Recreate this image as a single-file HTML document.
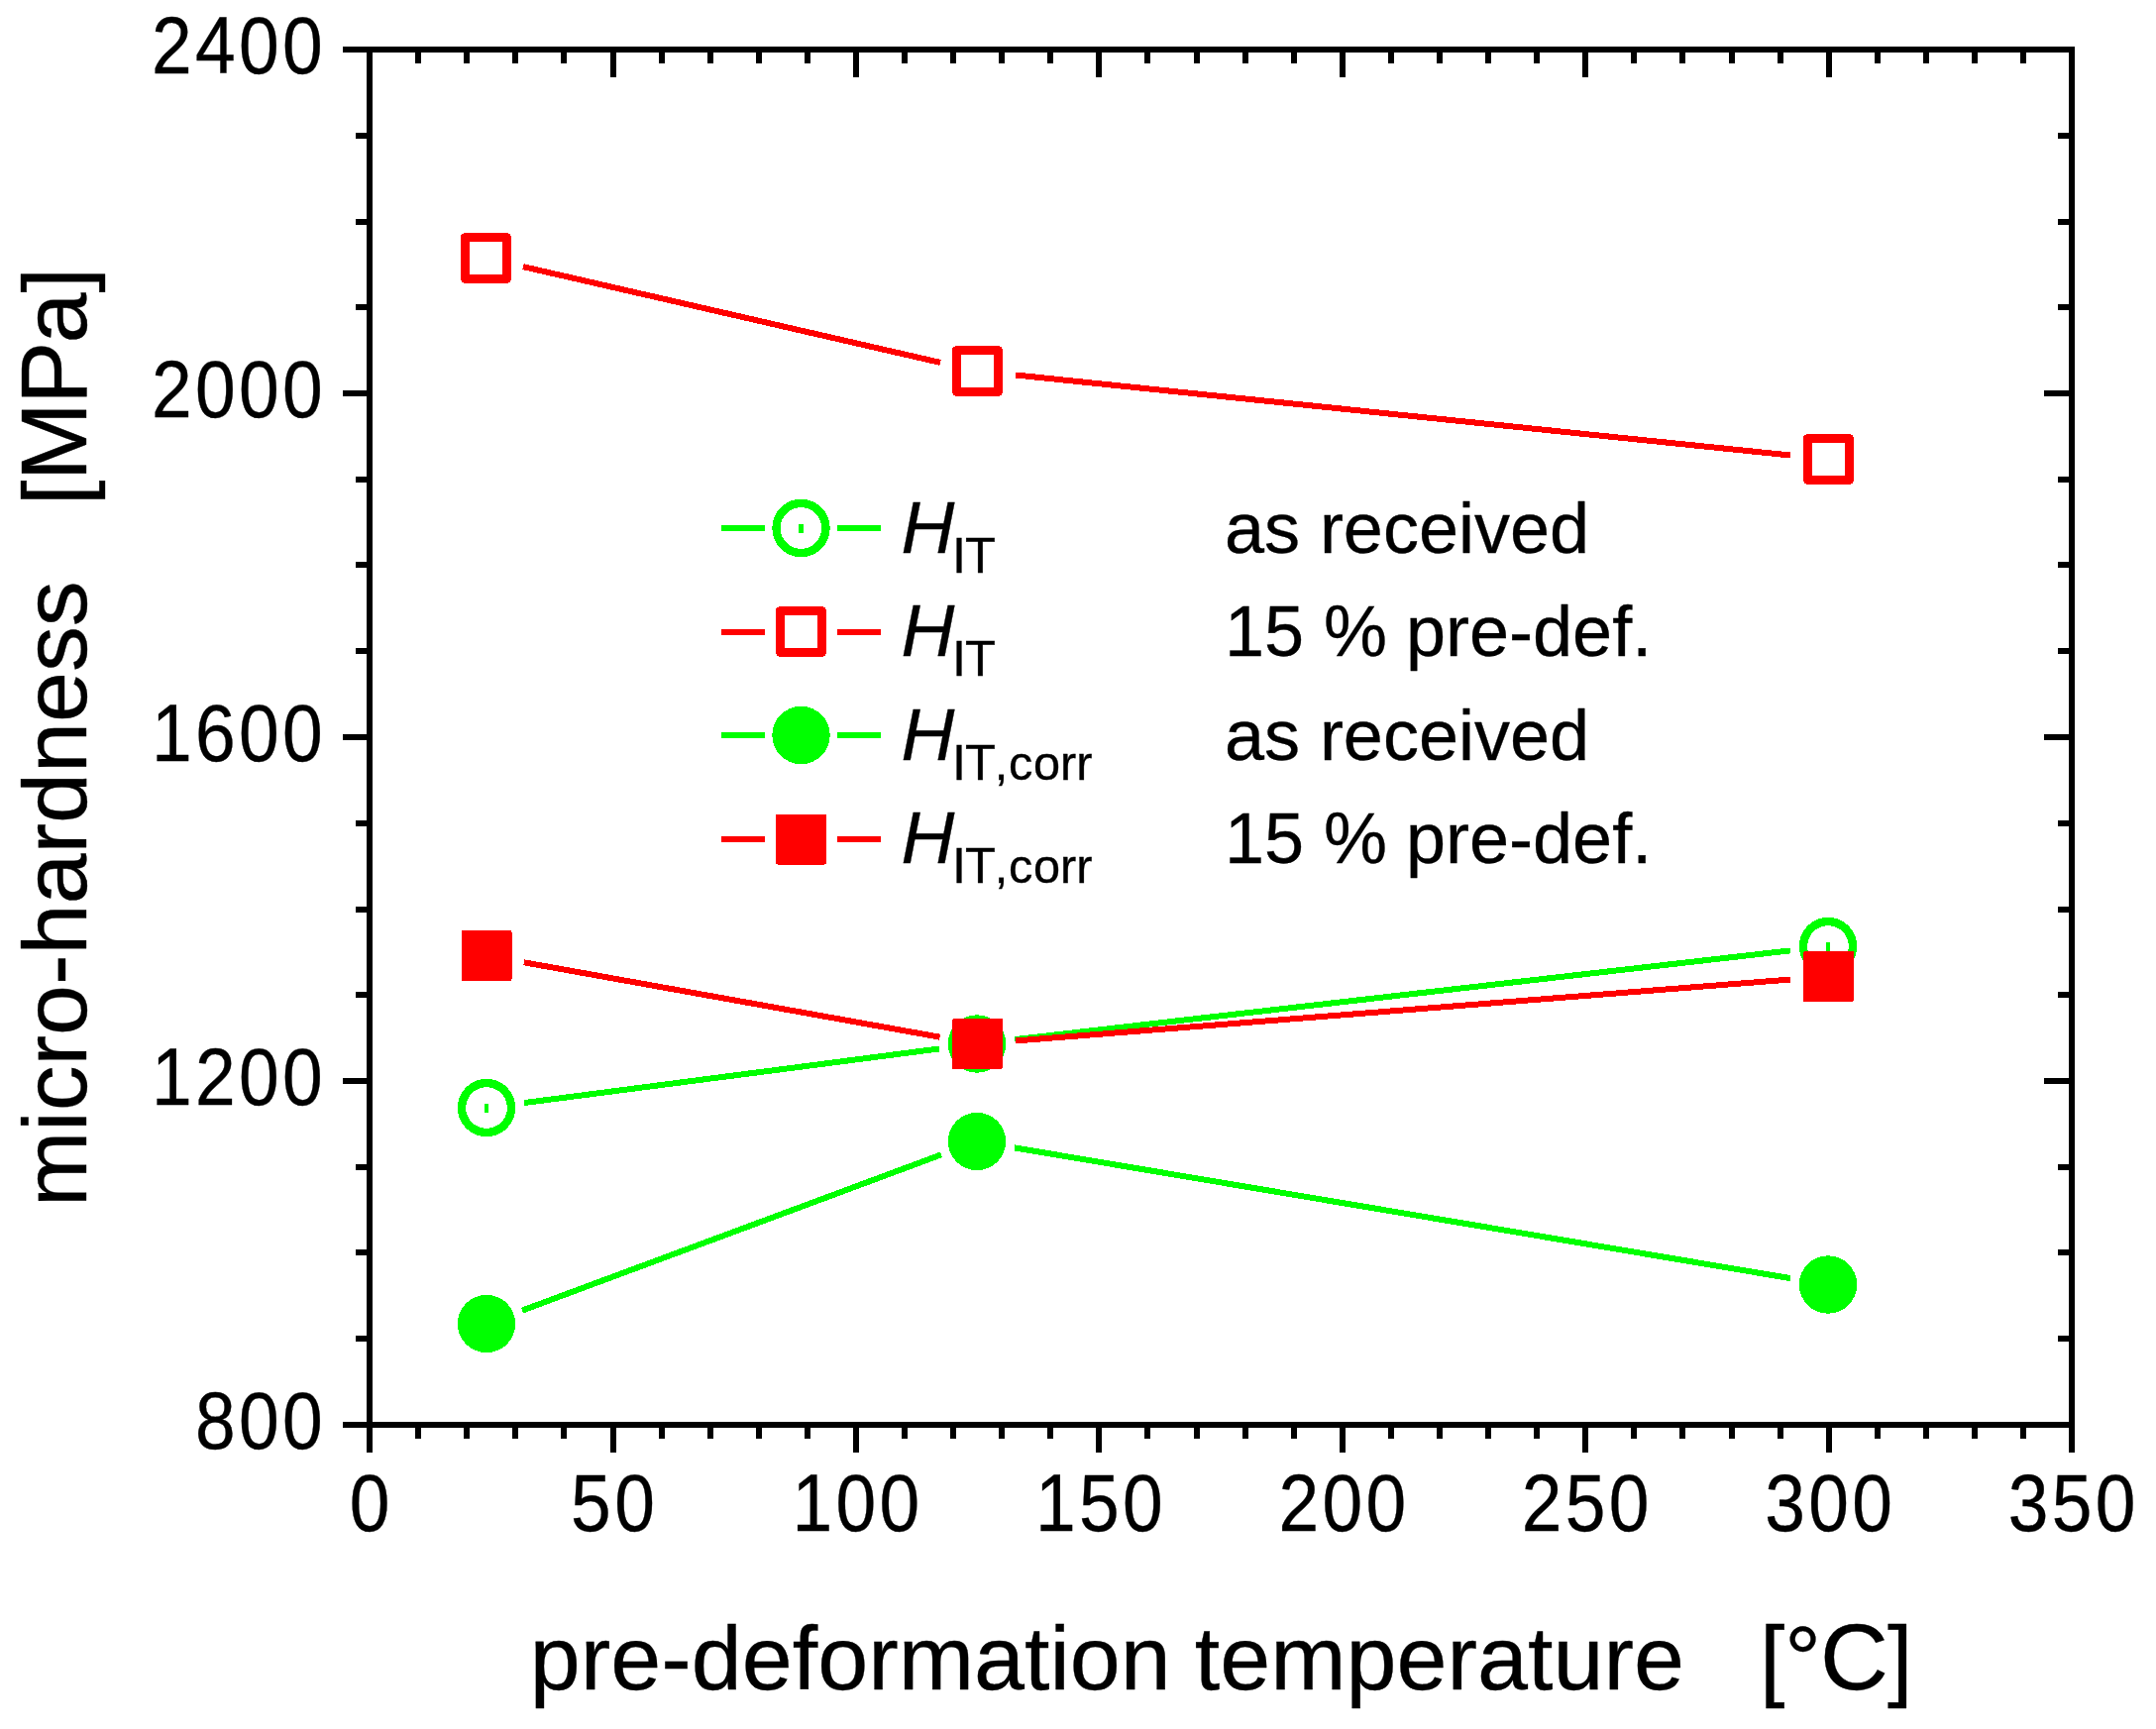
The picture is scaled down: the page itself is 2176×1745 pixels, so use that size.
<!DOCTYPE html>
<html lang="en"><head><meta charset="utf-8"><title>micro-hardness vs pre-deformation temperature</title>
<style>
html,body{margin:0;padding:0;background:#fff;}
body{width:2176px;height:1745px;overflow:hidden;}
svg{display:block;}
text{font-family:"Liberation Sans",Arial,Helvetica,sans-serif;fill:#000;font-kerning:none;stroke:#000;stroke-width:0.35px;}
.tk{font-size:80.8px;letter-spacing:3.7px;stroke-width:0.7px;}
.ti{font-size:91.67px;}
.lg{font-size:72px;}
.sb{font-size:48.7px;}
.it{font-style:italic;font-size:74.6px;}
.sc{font-size:50.6px;}
.cp{font-size:95.43px;}
</style></head><body>
<svg width="2176" height="1745" viewBox="0 0 2176 1745">
<rect x="0" y="0" width="2176" height="1745" fill="#fff"/>
<g id="series" stroke-linecap="butt" shape-rendering="crispEdges">
<g id="go">
<line x1="529.18" y1="1113.03" x2="947.82" y2="1058.47" stroke="#00ff00" stroke-width="6"/>
<line x1="1024.25" y1="1049.11" x2="1806.75" y2="959.39" stroke="#00ff00" stroke-width="6"/>
<circle cx="491" cy="1118" r="25" fill="none" stroke="#00ff00" stroke-width="8.4"/>
<rect x="488.8" y="1113.5" width="4.4" height="9" fill="#00ff00"/>
<circle cx="986" cy="1053.5" r="25" fill="none" stroke="#00ff00" stroke-width="8.4"/>
<rect x="983.8" y="1049" width="4.4" height="9" fill="#00ff00"/>
<circle cx="1845" cy="955" r="25" fill="none" stroke="#00ff00" stroke-width="8.4"/>
<rect x="1842.8" y="950.5" width="4.4" height="9" fill="#00ff00"/>
</g>
<g id="ro">
<line x1="528.02" y1="269.12" x2="948.98" y2="365.88" stroke="#ff0000" stroke-width="6"/>
<line x1="1024.8" y1="378.47" x2="1807.2" y2="459.53" stroke="#ff0000" stroke-width="6"/>
<rect x="469.5" y="239.5" width="42" height="42" fill="none" stroke="#ff0000" stroke-width="9" stroke-linejoin="round"/>
<rect x="965.5" y="353.5" width="42" height="42" fill="none" stroke="#ff0000" stroke-width="9" stroke-linejoin="round"/>
<rect x="1824.5" y="442.5" width="42" height="42" fill="none" stroke="#ff0000" stroke-width="9" stroke-linejoin="round"/>
</g>
<g id="gf">
<line x1="527.09" y1="1322.59" x2="949.91" y2="1165.41" stroke="#00ff00" stroke-width="6"/>
<line x1="1023.97" y1="1158.39" x2="1807.03" y2="1290.11" stroke="#00ff00" stroke-width="6"/>
<circle cx="491" cy="1336" r="29.2" fill="#00ff00"/>
<circle cx="986" cy="1152" r="29.2" fill="#00ff00"/>
<circle cx="1845" cy="1296.5" r="29.2" fill="#00ff00"/>
</g>
<g id="rf">
<line x1="528.89" y1="971.31" x2="948.61" y2="1046.69" stroke="#ff0000" stroke-width="6"/>
<line x1="1024.88" y1="1050.46" x2="1807.12" y2="988.54" stroke="#ff0000" stroke-width="6"/>
<rect x="465.5" y="939" width="51" height="51" rx="2" ry="2" fill="#ff0000"/>
<rect x="961" y="1028" width="51" height="51" rx="2" ry="2" fill="#ff0000"/>
<rect x="1820" y="960" width="51" height="51" rx="2" ry="2" fill="#ff0000"/>
</g>
</g>
<g id="axes" fill="#000" shape-rendering="crispEdges">
<rect x="370" y="47" width="1724" height="6"/>
<rect x="370" y="1435" width="1724" height="6"/>
<rect x="370" y="47" width="6" height="1394"/>
<rect x="2088" y="47" width="6" height="1394"/>
<rect x="370" y="1438" width="6" height="28"/>
<rect x="370" y="50" width="6" height="28"/>
<rect x="419" y="1438" width="6" height="14"/>
<rect x="419" y="50" width="6" height="14"/>
<rect x="468" y="1438" width="6" height="14"/>
<rect x="468" y="50" width="6" height="14"/>
<rect x="517" y="1438" width="6" height="14"/>
<rect x="517" y="50" width="6" height="14"/>
<rect x="566" y="1438" width="6" height="14"/>
<rect x="566" y="50" width="6" height="14"/>
<rect x="616" y="1438" width="6" height="28"/>
<rect x="616" y="50" width="6" height="28"/>
<rect x="665" y="1438" width="6" height="14"/>
<rect x="665" y="50" width="6" height="14"/>
<rect x="714" y="1438" width="6" height="14"/>
<rect x="714" y="50" width="6" height="14"/>
<rect x="763" y="1438" width="6" height="14"/>
<rect x="763" y="50" width="6" height="14"/>
<rect x="812" y="1438" width="6" height="14"/>
<rect x="812" y="50" width="6" height="14"/>
<rect x="861" y="1438" width="6" height="28"/>
<rect x="861" y="50" width="6" height="28"/>
<rect x="910" y="1438" width="6" height="14"/>
<rect x="910" y="50" width="6" height="14"/>
<rect x="959" y="1438" width="6" height="14"/>
<rect x="959" y="50" width="6" height="14"/>
<rect x="1008" y="1438" width="6" height="14"/>
<rect x="1008" y="50" width="6" height="14"/>
<rect x="1057" y="1438" width="6" height="14"/>
<rect x="1057" y="50" width="6" height="14"/>
<rect x="1106" y="1438" width="6" height="28"/>
<rect x="1106" y="50" width="6" height="28"/>
<rect x="1155" y="1438" width="6" height="14"/>
<rect x="1155" y="50" width="6" height="14"/>
<rect x="1205" y="1438" width="6" height="14"/>
<rect x="1205" y="50" width="6" height="14"/>
<rect x="1254" y="1438" width="6" height="14"/>
<rect x="1254" y="50" width="6" height="14"/>
<rect x="1303" y="1438" width="6" height="14"/>
<rect x="1303" y="50" width="6" height="14"/>
<rect x="1352" y="1438" width="6" height="28"/>
<rect x="1352" y="50" width="6" height="28"/>
<rect x="1401" y="1438" width="6" height="14"/>
<rect x="1401" y="50" width="6" height="14"/>
<rect x="1450" y="1438" width="6" height="14"/>
<rect x="1450" y="50" width="6" height="14"/>
<rect x="1499" y="1438" width="6" height="14"/>
<rect x="1499" y="50" width="6" height="14"/>
<rect x="1548" y="1438" width="6" height="14"/>
<rect x="1548" y="50" width="6" height="14"/>
<rect x="1597" y="1438" width="6" height="28"/>
<rect x="1597" y="50" width="6" height="28"/>
<rect x="1646" y="1438" width="6" height="14"/>
<rect x="1646" y="50" width="6" height="14"/>
<rect x="1695" y="1438" width="6" height="14"/>
<rect x="1695" y="50" width="6" height="14"/>
<rect x="1745" y="1438" width="6" height="14"/>
<rect x="1745" y="50" width="6" height="14"/>
<rect x="1794" y="1438" width="6" height="14"/>
<rect x="1794" y="50" width="6" height="14"/>
<rect x="1843" y="1438" width="6" height="28"/>
<rect x="1843" y="50" width="6" height="28"/>
<rect x="1892" y="1438" width="6" height="14"/>
<rect x="1892" y="50" width="6" height="14"/>
<rect x="1941" y="1438" width="6" height="14"/>
<rect x="1941" y="50" width="6" height="14"/>
<rect x="1990" y="1438" width="6" height="14"/>
<rect x="1990" y="50" width="6" height="14"/>
<rect x="2039" y="1438" width="6" height="14"/>
<rect x="2039" y="50" width="6" height="14"/>
<rect x="2088" y="1438" width="6" height="28"/>
<rect x="2088" y="50" width="6" height="28"/>
<rect x="346" y="1435" width="27" height="6"/>
<rect x="2063" y="1435" width="28" height="6"/>
<rect x="359" y="1348" width="14" height="6"/>
<rect x="2077" y="1348" width="14" height="6"/>
<rect x="359" y="1261" width="14" height="6"/>
<rect x="2077" y="1261" width="14" height="6"/>
<rect x="359" y="1175" width="14" height="6"/>
<rect x="2077" y="1175" width="14" height="6"/>
<rect x="346" y="1088" width="27" height="6"/>
<rect x="2063" y="1088" width="28" height="6"/>
<rect x="359" y="1001" width="14" height="6"/>
<rect x="2077" y="1001" width="14" height="6"/>
<rect x="359" y="915" width="14" height="6"/>
<rect x="2077" y="915" width="14" height="6"/>
<rect x="359" y="828" width="14" height="6"/>
<rect x="2077" y="828" width="14" height="6"/>
<rect x="346" y="741" width="27" height="6"/>
<rect x="2063" y="741" width="28" height="6"/>
<rect x="359" y="654" width="14" height="6"/>
<rect x="2077" y="654" width="14" height="6"/>
<rect x="359" y="567" width="14" height="6"/>
<rect x="2077" y="567" width="14" height="6"/>
<rect x="359" y="481" width="14" height="6"/>
<rect x="2077" y="481" width="14" height="6"/>
<rect x="346" y="394" width="27" height="6"/>
<rect x="2063" y="394" width="28" height="6"/>
<rect x="359" y="307" width="14" height="6"/>
<rect x="2077" y="307" width="14" height="6"/>
<rect x="359" y="221" width="14" height="6"/>
<rect x="2077" y="221" width="14" height="6"/>
<rect x="359" y="134" width="14" height="6"/>
<rect x="2077" y="134" width="14" height="6"/>
<rect x="346" y="47" width="27" height="6"/>
<rect x="2063" y="47" width="28" height="6"/>
</g>
<g id="ticklabels" class="tk">
<text transform="translate(374.7 1545) scale(0.905 1)" x="0" y="0" text-anchor="middle">0</text>
<text transform="translate(620.13 1545) scale(0.905 1)" x="0" y="0" text-anchor="middle">50</text>
<text transform="translate(865.56 1545) scale(0.905 1)" x="0" y="0" text-anchor="middle">100</text>
<text transform="translate(1110.99 1545) scale(0.905 1)" x="0" y="0" text-anchor="middle">150</text>
<text transform="translate(1356.41 1545) scale(0.905 1)" x="0" y="0" text-anchor="middle">200</text>
<text transform="translate(1601.84 1545) scale(0.905 1)" x="0" y="0" text-anchor="middle">250</text>
<text transform="translate(1847.27 1545) scale(0.905 1)" x="0" y="0" text-anchor="middle">300</text>
<text transform="translate(2092.7 1545) scale(0.905 1)" x="0" y="0" text-anchor="middle">350</text>
<text transform="translate(329 1462) scale(0.905 1)" x="0" y="0" text-anchor="end">800</text>
<text transform="translate(329 1115) scale(0.905 1)" x="0" y="0" text-anchor="end">1200</text>
<text transform="translate(329 768) scale(0.905 1)" x="0" y="0" text-anchor="end">1600</text>
<text transform="translate(329 421) scale(0.905 1)" x="0" y="0" text-anchor="end">2000</text>
<text transform="translate(329 74) scale(0.905 1)" x="0" y="0" text-anchor="end">2400</text>
</g>
<g id="titles" class="ti">
<text y="1705"><tspan x="534.8">pre-deformation</tspan> <tspan x="1205.8">temperature</tspan>   <tspan x="1775.9">[°</tspan><tspan class="cp" dx="-1">C</tspan><tspan dx="-0.9">]</tspan></text>
<text transform="translate(87 0) rotate(-90)"><tspan x="-1218">micro-hardness</tspan>   <tspan x="-510">[</tspan><tspan class="cp" dx="-1">M</tspan><tspan class="cp" dx="-2">P</tspan><tspan dx="-2">a]</tspan></text>
</g>
<g id="legend">
<g shape-rendering="crispEdges">
<line x1="728" y1="533" x2="772" y2="533" stroke="#00ff00" stroke-width="6"/>
<line x1="845" y1="533" x2="889" y2="533" stroke="#00ff00" stroke-width="6"/>
<circle cx="808.5" cy="533" r="25" fill="none" stroke="#00ff00" stroke-width="8.4"/>
<rect x="806.3" y="528.5" width="4.4" height="9" fill="#00ff00"/>
</g>
<text y="558" class="sb"><tspan class="it" x="909.5">H</tspan><tspan class="sc" x="961 974" dy="20">IT</tspan></text>
<text y="558" class="lg"><tspan x="1236">as</tspan> <tspan x="1331.9">received</tspan></text>
<g shape-rendering="crispEdges">
<line x1="728" y1="638" x2="772" y2="638" stroke="#ff0000" stroke-width="6"/>
<line x1="845" y1="638" x2="889" y2="638" stroke="#ff0000" stroke-width="6"/>
<rect x="787.5" y="616.5" width="42" height="42" fill="none" stroke="#ff0000" stroke-width="9" stroke-linejoin="round"/>
</g>
<text y="662" class="sb"><tspan class="it" x="909.5">H</tspan><tspan class="sc" x="961 974" dy="20">IT</tspan></text>
<text y="662" class="lg"><tspan x="1236">15</tspan> <tspan x="1336">%</tspan> <tspan x="1419">pre-def.</tspan></text>
<g shape-rendering="crispEdges">
<line x1="728" y1="742" x2="772" y2="742" stroke="#00ff00" stroke-width="6"/>
<line x1="845" y1="742" x2="889" y2="742" stroke="#00ff00" stroke-width="6"/>
<circle cx="808.5" cy="742" r="29.2" fill="#00ff00"/>
</g>
<text y="766.8" class="sb"><tspan class="it" x="909.5">H</tspan><tspan class="sc" x="961 974" dy="20">IT</tspan><tspan x="1003.8 1018 1043 1070 1086.3">,corr</tspan></text>
<text y="766.8" class="lg"><tspan x="1236">as</tspan> <tspan x="1331.9">received</tspan></text>
<g shape-rendering="crispEdges">
<line x1="728" y1="847" x2="772" y2="847" stroke="#ff0000" stroke-width="6"/>
<line x1="845" y1="847" x2="889" y2="847" stroke="#ff0000" stroke-width="6"/>
<rect x="783" y="821.5" width="51" height="51" rx="2" ry="2" fill="#ff0000"/>
</g>
<text y="871" class="sb"><tspan class="it" x="909.5">H</tspan><tspan class="sc" x="961 974" dy="20">IT</tspan><tspan x="1003.8 1018 1043 1070 1086.3">,corr</tspan></text>
<text y="871" class="lg"><tspan x="1236">15</tspan> <tspan x="1336">%</tspan> <tspan x="1419">pre-def.</tspan></text>
</g>
</svg>
</body></html>
